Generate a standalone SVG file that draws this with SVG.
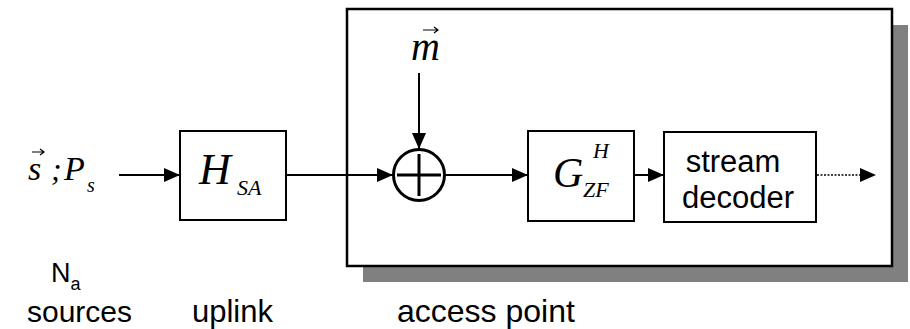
<svg xmlns="http://www.w3.org/2000/svg" width="910" height="329" viewBox="0 0 910 329">
<defs>
<marker id="ah" markerWidth="16" markerHeight="14" refX="16" refY="7" orient="auto" markerUnits="userSpaceOnUse">
<path d="M0,0 L16,7 L0,14 Z" fill="#000"/>
</marker>
<style>
.box{fill:#fff;stroke:#000;stroke-width:2}
.conn{fill:none;stroke:#000;stroke-width:2}
.math{font-family:"Liberation Serif","Times New Roman",serif;font-style:italic;fill:#000}
.lbl{font-family:"Liberation Sans",Arial,sans-serif;fill:#000}
</style>
</defs>
<rect id="shadow" x="363" y="25" width="545" height="257" fill="#808080"/>
<g id="access-point">
<rect x="347" y="9" width="545" height="257" fill="#fff" stroke="#000" stroke-width="2.5"/>
</g>
<g id="input-label">
<text class="math" x="28" y="180" font-size="34">s</text>
<path d="M32,152 L44,152 M40,149 L44,152 L40,155" fill="none" stroke="#000" stroke-width="1.2"/>
<text class="math" x="51" y="180" font-size="32" font-style="normal">;</text>
<text class="math" x="64" y="180" font-size="34">P</text>
<text class="math" x="87" y="192" font-size="20">s</text>
</g>
<g id="hsa">
<rect class="box" x="180" y="131" width="106" height="89"/>
<text class="math" x="199" y="184" font-size="44">H</text>
<text class="math" x="237" y="195" font-size="22">SA</text>
</g>
<g id="noise-label">
<text class="math" x="411" y="60" font-size="40">m</text>
<path d="M423,30 L438,30 M434,27 L438,30 L434,33" fill="none" stroke="#000" stroke-width="1.2"/>
</g>
<g id="sum">
<circle cx="419" cy="175" r="25.5" fill="#fff" stroke="#000" stroke-width="3"/>
<path d="M397,175 L441,175 M419,154 L419,196" stroke="#000" stroke-width="3"/>
</g>
<g id="gzf">
<rect class="box" x="528" y="131" width="106" height="90"/>
<text class="math" x="553" y="187" font-size="42">G</text>
<text class="math" x="593" y="158" font-size="22">H</text>
<text class="math" x="583" y="197" font-size="22">ZF</text>
</g>
<g id="decoder">
<rect class="box" x="664" y="132" width="152" height="90"/>
<text class="lbl" x="733" y="172" font-size="31" text-anchor="middle">stream</text>
<text class="lbl" x="738" y="208" font-size="31" text-anchor="middle">decoder</text>
</g>
<g id="connectors">
<line class="conn" x1="119" y1="175" x2="180" y2="175" marker-end="url(#ah)"/>
<line class="conn" x1="286" y1="175" x2="393" y2="175" marker-end="url(#ah)"/>
<line class="conn" x1="419" y1="73" x2="419" y2="149" marker-end="url(#ah)"/>
<line class="conn" x1="445" y1="175" x2="528" y2="175" marker-end="url(#ah)"/>
<line class="conn" x1="634" y1="175" x2="664" y2="175" marker-end="url(#ah)"/>
<line x1="817" y1="175" x2="862" y2="175" stroke="#000" stroke-width="1.5" stroke-dasharray="2 1.5"/>
<path d="M860,168 L876,175 L860,182 Z" fill="#000"/>
</g>
<g id="captions">
<text class="lbl" x="51" y="282" font-size="27">N<tspan font-size="18" dy="8">a</tspan></text>
<text class="lbl" x="27" y="322" font-size="30">sources</text>
<text class="lbl" x="192" y="322" font-size="31">uplink</text>
<text class="lbl" x="397" y="322" font-size="32">access point</text>
</g>
</svg>
